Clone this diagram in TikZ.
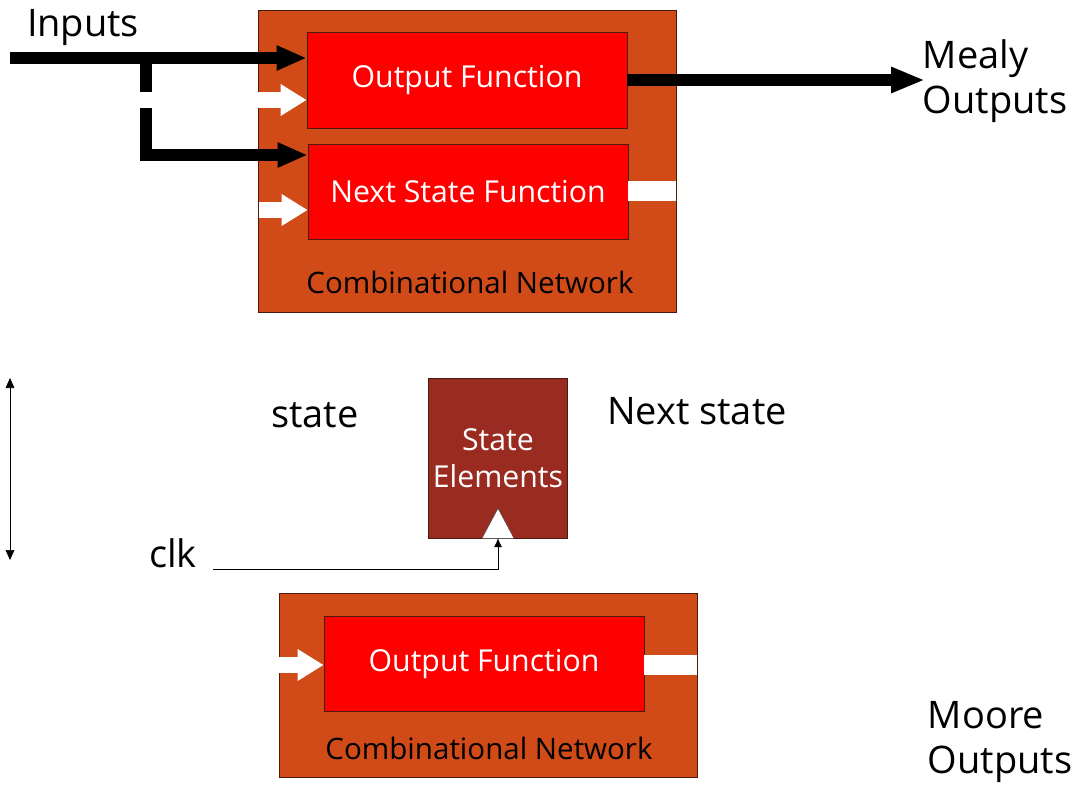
\documentclass[tikz,border=0pt]{standalone}
\usepackage{fontspec}
\setmainfont{Open Sans}
\usepackage{xcolor}
\usetikzlibrary{arrows.meta, positioning}

\definecolor{comborange}{HTML}{D14B18}
\definecolor{funcred}{HTML}{FF0000}
\definecolor{statered}{HTML}{9A2B20}
\definecolor{edgedark}{HTML}{4A1A0A}
\newcommand{\boxfont}{\fontsize{21.5}{26}\selectfont}
\newcommand{\netfont}{\fontsize{21}{25}\selectfont}
\newcommand{\bigfont}{\fontsize{27}{32}\selectfont}

\begin{document}
\begin{tikzpicture}[x=0.025cm, y=-0.025cm,
    combbox/.style={draw=edgedark, fill=comborange, minimum width=10.45cm},
    funcbox/.style={draw=edgedark, fill=funcred, text=white, font=\boxfont,
      minimum width=8cm, minimum height=2.4cm},
    statebox/.style={draw=edgedark, fill=statered, text=white, font=\boxfont,
      minimum width=3.4cm, minimum height=4cm, align=center},
    fatarrow/.style={line width=9pt, -{Triangle[length=7.5mm, width=5.8mm]}},
    whitearrow/.style={white, line width=12pt, -{Triangle[length=6.5mm, width=7.5mm]}},
    whitestub/.style={white, line width=14pt},
    label/.style={font=\bigfont}]
  \useasboundingbox (0,0) rectangle (1079,785);

  % top: combinational network
  \node[combbox, minimum height=7.55cm] (cn1) at (467,161) {};
  \node[funcbox] (of1) at (467,80) {Output Function};
  \node[funcbox, minimum height=2.375cm] (ns) at (468,192) {Next State Function};
  \node[font=\netfont] (cnlabel1) at (470,282) {Combinational Network};

  \node[label] (inputs) at (83,28) {Inputs};
  \coordinate (in) at (10,58);
  \coordinate (split) at (146,58);
  \coordinate (bend) at (146,155);
  \draw[fatarrow] (in) -- (in -| of1.west);
  \draw[fatarrow] (split) -- (bend) -- (bend -| ns.west);

  % state lines (white)
  \coordinate (st1) at (128,100);
  \coordinate (st2) at (259,210);
  \coordinate (nsout) at (676,191);
  \draw[whitearrow] (st1) -- (st1 -| of1.west);
  \draw[whitearrow] (st2) -- (st2 -| ns.west);
  \draw[whitestub] (nsout -| ns.east) -- (nsout);

  \coordinate (mealy) at (925,80);
  \draw[line width=9pt, -{Triangle[length=8.5mm, width=6mm]}] (of1.east) -- (mealy);
  \node[label, anchor=west, align=left] (mealytext) at (918,81) {Mealy\\Outputs};

  % state elements
  \node[statebox] (se) at (498,458) {State\\Elements};
  \draw[draw=black!70, fill=white] ([xshift=-0.4cm]se.south) -- ([yshift=0.75cm]se.south)
    -- ([xshift=0.4cm]se.south) -- cycle;
  \node[label] (statetext) at (315,415) {state};
  \node[label] (nexttext) at (697,411) {Next state};
  \node[label] (clktext) at (173,553) {clk};
  \coordinate (clk) at (213,569);
  \draw[-{Latex[length=2.2mm, width=2mm]}] (clk) -| (se.south);

  \coordinate (top) at (10,378);
  \coordinate (bot) at (10,560);
  \draw[{Triangle[length=2.5mm, width=2.2mm]}-{Triangle[length=2.5mm, width=2.2mm]}] (top) -- (bot);

  % bottom: combinational network
  \node[combbox, minimum height=4.6cm] (cn2) at (488,685) {};
  \node[funcbox, minimum height=2.375cm] (of2) at (484,664) {Output Function};
  \node[font=\netfont] (cnlabel2) at (489,748) {Combinational Network};
  \coordinate (st3) at (279,665);
  \coordinate (mooreout) at (697,665);
  \draw[whitearrow] (st3) -- (st3 -| of2.west);
  \draw[whitestub] (mooreout -| of2.east) -- (mooreout);

  \node[label, anchor=west, align=left] (mooretext) at (923,742) {Moore\\Outputs};
\end{tikzpicture}
\end{document}
